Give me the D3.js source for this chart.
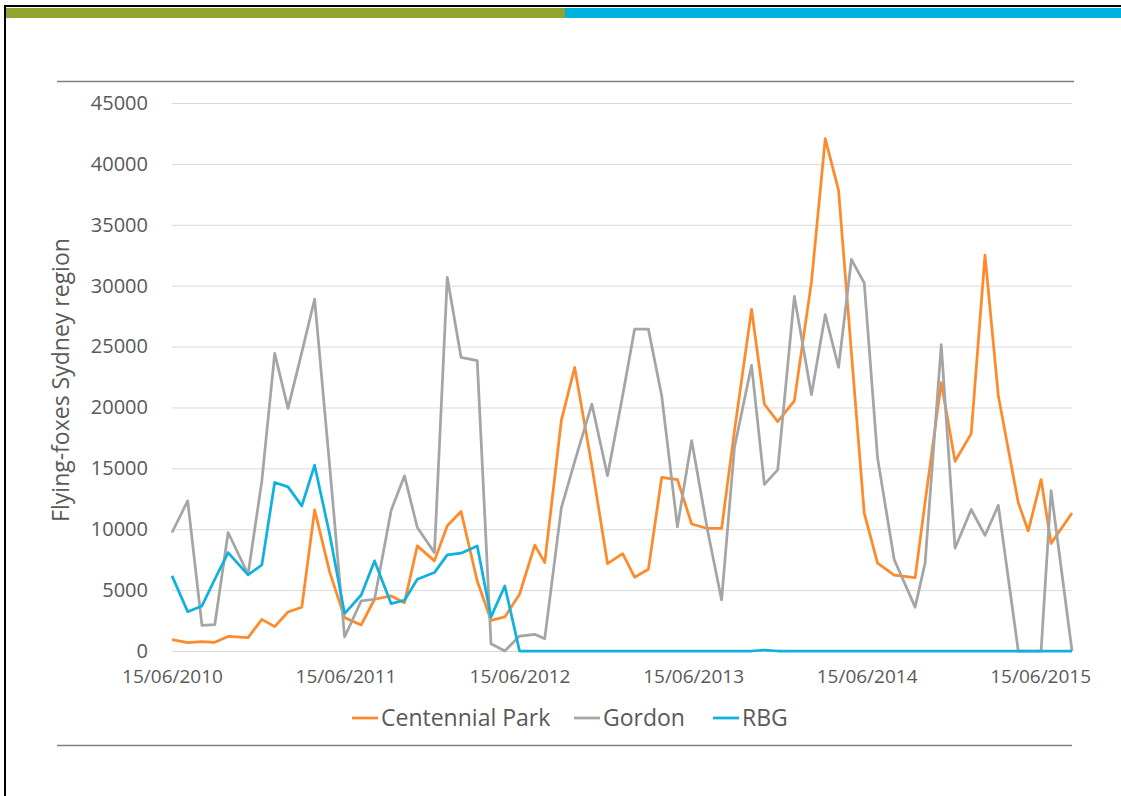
<!DOCTYPE html>
<html>
<head>
<meta charset="utf-8">
<script src="https://cdn.jsdelivr.net/npm/d3@7"></script>
<style>
  body { margin: 0; background: #fff; }
  svg text { font-family: "Open Sans", "Liberation Sans", sans-serif; fill: #595959; }
</style>
</head>
<body>
<svg id="chart" width="1121" height="796"></svg>
<script>
// survey dates (day/month/year)
const dates = ["2010-06-15","2010-07-18","2010-08-17","2010-09-13","2010-10-11","2010-11-22","2010-12-21",
	"2011-01-17","2011-02-14","2011-03-15","2011-04-11","2011-05-13","2011-06-13","2011-07-18","2011-08-15",
	"2011-09-19","2011-10-17","2011-11-13","2011-12-19","2012-01-15","2012-02-13","2012-03-18","2012-04-16",
	"2012-05-15","2012-06-15","2012-07-17","2012-08-07","2012-09-11","2012-10-09","2012-11-14","2012-12-17",
	"2013-01-18","2013-02-12","2013-03-13","2013-04-10","2013-05-13","2013-06-12","2013-07-15","2013-08-14",
	"2013-09-10","2013-10-16","2013-11-12","2013-12-10","2014-01-14","2014-02-19","2014-03-20","2014-04-17",
	"2014-05-14","2014-06-10","2014-07-08","2014-08-12","2014-09-25","2014-10-16","2014-11-19","2014-12-18",
	"2015-01-21","2015-02-19","2015-03-19","2015-04-30","2015-05-21","2015-06-17","2015-07-08","2015-08-21"];

const centennial = [930, 690, 770, 710, 1200, 1100, 2600, 2000, 3200, 3590, 11590, 6440, 2740, 2140, 4250,
	4520, 3970, 8630, 7400, 10280, 11450, 5750, 2520, 2800, 4660, 8690, 7260,
	18960, 23290, 15230, 7180, 8000, 6060, 6710, 14250, 14080, 10430, 10060, 10060,
	18050, 28050, 20260, 18840, 20540, 30310, 42070, 37820, 24500, 11330, 7220, 6230,
	6030, 12200, 22040, 15580, 17850, 32500, 20960, 12180, 9860, 14080, 8840, 11330];

const gordon = [9730, 12330, 2110, 2160, 9730, 6300, 13970, 24440, 19920, 24520, 28900, 15040, 1150, 4110, 4250,
	11560, 14385, 10140, 8080, 30690, 24110, 23840, 600, 0, 1230, 1370, 1010,
	11780, 15560, 20280, 14390, 21000, 26430, 26430, 20960, 10200, 17280, 10000, 4190,
	16715, 23460, 13680, 14870, 29120, 21050, 27620, 23290, 32150, 30230, 15860, 7510,
	3600, 7220, 25160, 8440, 11620, 9490, 11960, 0, 0, 0, 13170, 0];

const rbg = [6165, 3230, 3700, 5890, 8080, 6250, 7070, 13840, 13480, 11920, 15260, 9500, 3070, 4600, 7400,
	3890, 4165, 5890, 6440, 7890, 8030, 8630, 2800, 5340, 0, 0, 0,
	0, 0, 0, 0, 0, 0, 0, 0, 0, 0, 0, 0,
	0, 0, 80, 0, 0, 0, 0, 0, 0, 0, 0, 0,
	0, 0, 0, 0, 0, 0, 0, 0, 0, 0, 0, 0];

const seriesNames = ["Centennial Park", "Gordon", "RBG"];
const seriesColors = ["#FF8A2B", "#A5A5A5", "#0FB1DF"];
const yTicks = [0, 5000, 10000, 15000, 20000, 25000, 30000, 35000, 40000, 45000];
const xTickDates = ["2010-06-15", "2011-06-15", "2012-06-15", "2013-06-15", "2014-06-15", "2015-06-15"];
const yTitle = "Flying-foxes Sydney region";

const svg = d3.select("#chart");
const parse = d3.timeParse("%Y-%m-%d");
const fmt = d3.timeFormat("%d/%m/%Y");

// slide frame and header bars
svg.append("line").attr("x1", 4).attr("x2", 1121).attr("y1", 6).attr("y2", 6)
	.attr("stroke", "#000").attr("stroke-width", 2);
svg.append("line").attr("x1", 5).attr("x2", 5).attr("y1", 5).attr("y2", 796)
	.attr("stroke", "#000").attr("stroke-width", 2);
svg.append("rect").attr("x", 6).attr("y", 8).attr("width", 559).attr("height", 10).attr("fill", "#91A42F");
svg.append("rect").attr("x", 565).attr("y", 8).attr("width", 556).attr("height", 10).attr("fill", "#00B2DE");
svg.append("line").attr("x1", 57).attr("x2", 1074).attr("y1", 81.5).attr("y2", 81.5)
	.attr("stroke", "#7F7F7F").attr("stroke-width", 1.5);
svg.append("line").attr("x1", 57).attr("x2", 1072).attr("y1", 745.5).attr("y2", 745.5)
	.attr("stroke", "#7F7F7F").attr("stroke-width", 1.5);

const dateValues = dates.map(parse);

const x = d3.scaleTime()
	.domain(d3.extent(dateValues))
	.range([172, 1072]);

const y = d3.scaleLinear()
	.domain([0, 45000])
	.range([651, 103]);

// gridlines + y labels
const yAxis = d3.axisLeft(y)
	.tickValues(yTicks)
	.tickSize(-(x.range()[1] - x.range()[0]))
	.tickPadding(24)
	.tickFormat(d3.format("d"));

const yg = svg.append("g")
	.attr("transform", "translate(172,0)")
	.call(yAxis);
yg.select(".domain").remove();
yg.selectAll(".tick line").attr("stroke", "#D9D9D9").attr("stroke-width", 1);
yg.selectAll(".tick text").attr("font-size", 20).style("fill", "#595959");

// x labels
const xAxis = d3.axisBottom(x)
	.tickValues(xTickDates.map(parse))
	.tickSize(0)
	.tickPadding(19)
	.tickFormat(fmt);

const xg = svg.append("g")
	.attr("transform", "translate(0,651)")
	.call(xAxis);
xg.select(".domain").remove();
xg.selectAll(".tick text").attr("font-size", 19).style("fill", "#595959");

// y title
svg.append("text")
	.attr("transform", "translate(69,380) rotate(-90)")
	.attr("text-anchor", "middle")
	.attr("font-size", 23)
	.text(yTitle);

// lines
const line = d3.line()
	.x((d, i) => x(dateValues[i]))
	.y(d => y(d));

[centennial, gordon, rbg].forEach((vals, k) => {
	svg.append("path")
		.datum(vals)
		.attr("fill", "none")
		.attr("stroke", seriesColors[k])
		.attr("stroke-width", 2.75)
		.attr("stroke-linejoin", "round")
		.attr("d", line);
});

// legend
const legendX = [352, 574, 713];
const legend = svg.append("g");
seriesNames.forEach((name, k) => {
	legend.append("line")
		.attr("x1", legendX[k]).attr("x2", legendX[k] + 26)
		.attr("y1", 718).attr("y2", 718)
		.attr("stroke", seriesColors[k]).attr("stroke-width", 2.75);
	legend.append("text")
		.attr("x", legendX[k] + 29)
		.attr("y", 726)
		.attr("font-size", 23)
		.text(name);
});
</script>
</body>
</html>
